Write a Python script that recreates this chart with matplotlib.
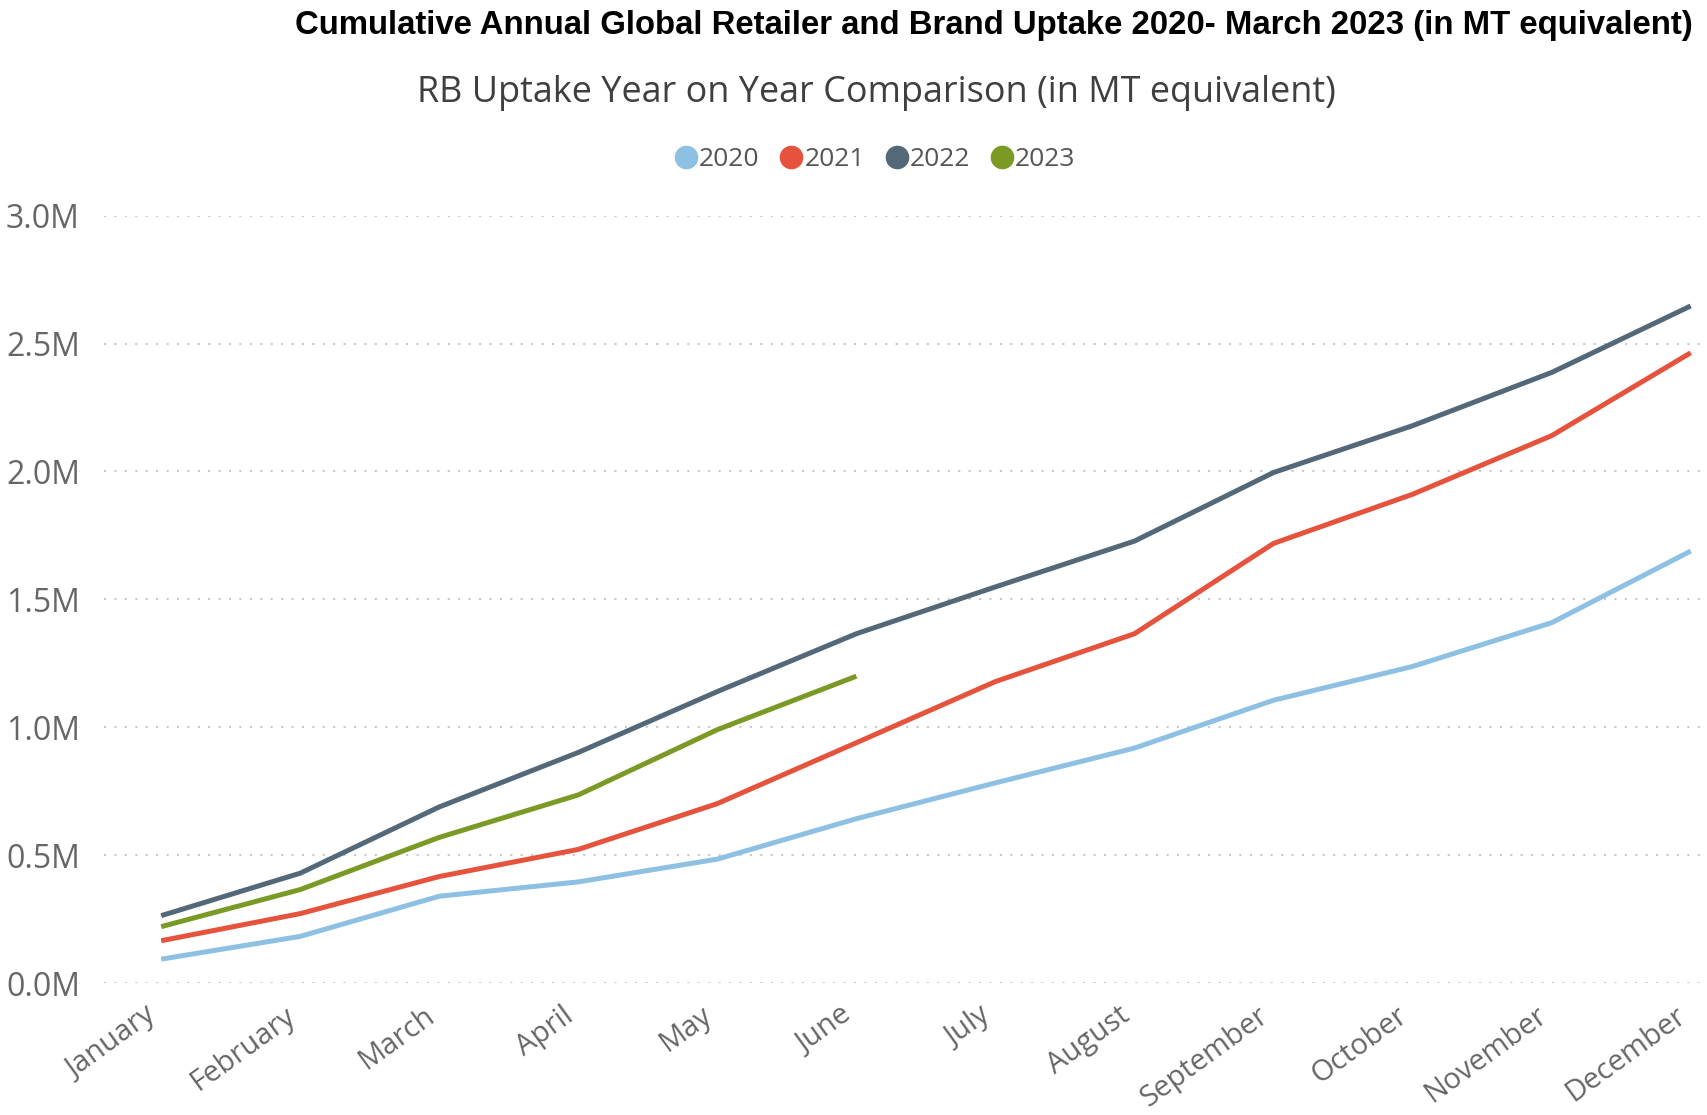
import matplotlib
matplotlib.use("Agg")
import matplotlib.pyplot as plt
from matplotlib.lines import Line2D
from matplotlib import font_manager
from matplotlib.transforms import ScaledTranslation

months = ["January", "February", "March", "April", "May", "June", "July",
          "August", "September", "October", "November", "December"]
y2020 = [0.094, 0.183, 0.340, 0.396, 0.485, 0.643, 0.783, 0.919, 1.106, 1.238, 1.409, 1.689]
y2021 = [0.166, 0.272, 0.417, 0.523, 0.702, 0.940, 1.179, 1.366, 1.719, 1.911, 2.140, 2.464]
y2022 = [0.264, 0.430, 0.689, 0.902, 1.140, 1.366, 1.549, 1.728, 1.996, 2.179, 2.387, 2.647]
y2023 = [0.221, 0.366, 0.570, 0.736, 0.991, 1.200]
series_names = ["2020", "2021", "2022", "2023"]
yticks = [0.0, 0.5, 1.0, 1.5, 2.0, 2.5, 3.0]
ytick_labels = ["0.0M", "0.5M", "1.0M", "1.5M", "2.0M", "2.5M", "3.0M"]
title = "Cumulative Annual Global Retailer and Brand Uptake 2020- March 2023 (in MT equivalent)"
subtitle = "RB Uptake Year on Year Comparison (in MT equivalent)"

colors = ["#8DC0E3", "#E5533C", "#536878", "#7B9A25"]

names = {f.name for f in font_manager.fontManager.ttflist}
narrow = "Liberation Sans Narrow" if "Liberation Sans Narrow" in names else "Liberation Sans"
ui = "Open Sans" if "Open Sans" in names else "DejaVu Sans"

fig = plt.figure(figsize=(17.08, 11.15), dpi=100)
ax = fig.add_axes([0.0606, 0.1182, 0.9374, 0.6884])

data = [y2020, y2021, y2022, y2023]
for vals, c in zip(data, colors):
    ax.plot(range(len(vals)), vals, color=c, lw=3.6, solid_capstyle="butt",
            solid_joinstyle="round", zorder=3)

ax.set_xlim(-0.415, 11.1)
ax.set_ylim(0, 3.0)
ax.set_yticks(yticks)
ax.set_yticklabels(ytick_labels, fontsize=23, color="#666666", family=ui)
ax.set_xticks(range(12))
ax.set_xticklabels(months, rotation=36, ha="right", rotation_mode="anchor",
                   fontsize=21, color="#666666", family=ui)
ax.tick_params(axis="y", length=0, pad=17)
ax.tick_params(axis="x", length=0, pad=13)
shift = ScaledTranslation(-12 / 72, 0, fig.dpi_scale_trans)
for lbl in ax.get_xticklabels():
    lbl.set_transform(lbl.get_transform() + shift)
for s in ax.spines.values():
    s.set_visible(False)
ax.grid(axis="y", color="#c8c8c8", linestyle=(0, (1, 4)), lw=1.5)
ax.set_axisbelow(True)

fig.text(0.991, 0.977, title, ha="right", va="center", fontsize=23.7,
         fontweight="bold", family=narrow, color="black")
fig.text(0.513, 0.917, subtitle, ha="center", va="center", fontsize=25.9,
         family=ui, color="#3f3f3f")

handles = [Line2D([0], [0], marker="o", color="none", markerfacecolor=c,
                  markeredgecolor=c, markersize=16) for c in colors]
leg = fig.legend(handles, series_names, loc="center", bbox_to_anchor=(0.511, 0.857),
                 ncol=4, frameon=False, handletextpad=-0.1, columnspacing=0.6,
                 prop={"family": ui, "size": 19}, labelcolor="#555555",
                 handlelength=1.2)

fig.savefig("out.png", dpi=100, facecolor="white")
